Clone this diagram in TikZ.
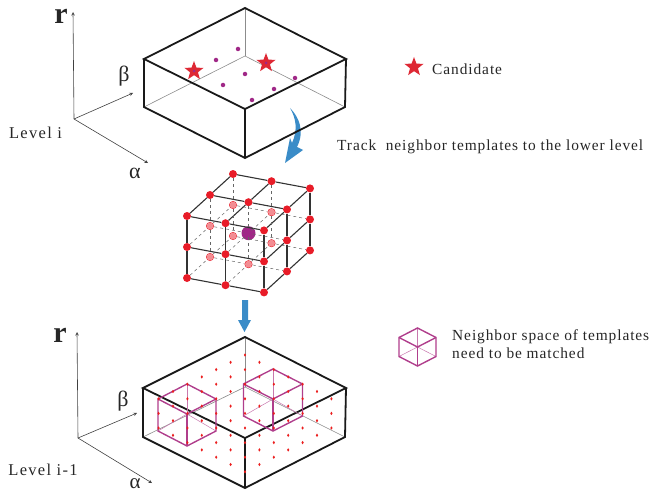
\documentclass[tikz,border=0pt]{standalone}
\usepackage{fontspec}
\setmainfont{Liberation Serif}
\newfontfamily\spacedfont[LetterSpace=6]{Liberation Serif}
\newfontfamily\levelfont[LetterSpace=8]{Liberation Serif}
\usepackage{tikz}
\usetikzlibrary{arrows,positioning,shapes.geometric}

\definecolor{arrowblue}{RGB}{58,140,200}
\definecolor{starred}{RGB}{222,40,52}
\definecolor{ballred}{RGB}{232,28,40}
\definecolor{griddotred}{RGB}{235,30,30}
\definecolor{cubepink}{RGB}{176,62,140}
\definecolor{dotpurple}{RGB}{160,40,135}
\tikzset{
  box/.style={line width=1.8pt,black!90},
  hidden/.style={line width=0.6pt,black!45},
  axis/.style={line width=0.6pt,black!75,-stealth},
  redball/.style={circle,fill=ballred,inner sep=0pt,minimum size=8pt},
  fadeball/.style={circle,fill=ballred!50!white,inner sep=0pt,minimum size=7pt},
  griddot/.style={ellipse,fill=griddotred,inner sep=0pt,minimum width=2.3pt,minimum height=3.4pt},
  purpledot/.style={circle,fill=dotpurple,inner sep=0pt,minimum size=4.5pt},
  candidate/.style={star,star points=5,star point ratio=2.4,fill=starred,inner sep=0pt,minimum size=20pt},
  label/.style={inner sep=0pt,font=\spacedfont\fontsize{15.4}{18}\selectfont,text=black!85},
  levellabel/.style={inner sep=0pt,font=\levelfont\fontsize{16.5}{18}\selectfont,text=black!85},
  axislabel/.style={inner sep=0pt,font=\fontsize{22}{22}\selectfont,text=black!85},
  cubeline/.style={line width=1.4pt,cubepink},
  cubethin/.style={line width=0.5pt,cubepink!70}
}

\begin{document}
\begin{tikzpicture}[x=1pt,y=-1pt]
   \useasboundingbox (0,0) rectangle (653,492);

   % blue arrows
   \fill[arrowblue] (290,108) .. controls (299,117) and (305,131) .. (297,147)
      -- (303,150) -- (285,163) -- (290,138) -- (292,143)
      .. controls (298,130) and (296,118) .. (290,108);
   \fill[arrowblue] (242,300) -- (248,300) -- (248,320) -- (251,320) -- (244.5,332) -- (238,320) -- (242,320) -- cycle;

   % upper level
   \coordinate (ub) at (245,8);
   \coordinate (ul) at (144,59);
   \coordinate (ur) at (346,59);
   \coordinate (uf) at (245,109);
   \coordinate (ubb) at (245,56);
   \coordinate (ulb) at (144,107);
   \coordinate (urb) at (345,107);
   \coordinate (ufb) at (245,158);
   \draw[hidden] (ulb) -- (ubb) -- (urb);
   \draw[hidden] (ub) -- (ubb);
   \draw[box] (ub) -- (ul) -- (uf) -- (ur) -- cycle;
   \draw[box] (ul) -- (ulb) -- (ufb) -- (urb) -- (ur);
   \draw[box] (uf) -- (ufb);

   \node (s1) [candidate] at (194,71) {};
   \node (s2) [candidate] at (266,63) {};
   \node (s3) [candidate] at (414,67) {};
   \foreach \n/\x/\y in {1/238/49,2/216/60,3/245/74,4/223/85,5/295/78,6/274/89,7/252/100}
      \node (p\n) [purpledot] at (\x,\y) {};
   \node (q1) [purpledot,minimum size=3pt] at (s1) {};
   \node (q2) [purpledot,minimum size=3pt] at (s2) {};

   \coordinate (o1) at (74,119);
   \coordinate (r1) at (73,12);
   \coordinate (b1) at (133,93);
   \coordinate (a1) at (148,163);
   \draw[axis] (o1) -- (r1);
   \draw[axis] (o1) -- (b1);
   \draw[axis] (o1) -- (a1);
   \node (rlabel1) [axislabel,font=\fontsize{30}{30}\selectfont] at (61,16) {\textbf{r}};
   \node (blabel1) [axislabel] at (124,76) {β};
   \node (alabel1) [axislabel] at (135,173) {α};
   \node (level1) [levellabel] at (35.5,133) {Level i};

   % neighbor cube
   \foreach \a in {0,1,2}
     \foreach \b in {0,1,2}
       \foreach \c in {0,1,2}
         \node (n\a\b\c) [redball] at (187+38.5*\a+23*\b,216+7.2*\a-21*\b+31*\c) {};
   \foreach \a/\b/\c in {0/1/1,0/2/1,1/2/1,0/1/2,1/1/2,0/2/2,1/2/2}
      \node (f\a\b\c) [fadeball] at (n\a\b\c) {};
   \node (center) [circle,fill=dotpurple,inner sep=0pt,minimum size=14pt] at (n111) {};

   \foreach \a/\d in {0/1,1/2}
     \foreach \b/\c in {0/0,1/0,2/0,0/1,0/2}
       \draw[line width=1.1pt,black!80] (n\a\b\c) -- (n\d\b\c);
   \foreach \b/\d in {0/1,1/2}
     \foreach \a/\c in {0/0,1/0,2/0,2/1,2/2}
       \draw[line width=1.1pt,black!80] (n\a\b\c) -- (n\a\d\c);
   \foreach \c/\d in {0/1,1/2}
     \foreach \a/\b in {0/0,1/0,2/0,2/1,2/2}
       \draw[line width=1.1pt,black!80] (n\a\b\c) -- (n\a\b\d);
   \foreach \a/\d in {0/1,1/2}
     \foreach \b in {1,2}
       \foreach \c in {1,2}
         \draw[dashed,line width=0.5pt,black!60] (n\a\b\c) -- (n\d\b\c);
   \foreach \b/\d in {0/1,1/2}
     \foreach \a in {0,1}
       \foreach \c in {1,2}
         \draw[dashed,line width=0.5pt,black!60] (n\a\b\c) -- (n\a\d\c);
   \foreach \c/\d in {0/1,1/2}
     \foreach \a in {0,1}
       \foreach \b in {1,2}
         \draw[dashed,line width=0.5pt,black!60] (n\a\b\c) -- (n\a\b\d);

   % lower level
   \coordinate (lb) at (245,337);
   \coordinate (ll) at (143,388);
   \coordinate (lr) at (346,388);
   \coordinate (lf) at (245,438);
   \coordinate (lbb) at (245,387);
   \coordinate (llb) at (143,437);
   \coordinate (lrb) at (345,437);
   \coordinate (lfb) at (245,488);
   \draw[hidden] (llb) -- (lbb) -- (lrb);
   \draw[hidden] (lb) -- (lbb);
   \draw[box] (lb) -- (ll) -- (lf) -- (lr) -- cycle;
   \draw[box] (ll) -- (llb) -- (lfb) -- (lrb) -- (lr);
   \draw[box] (lf) -- (lfb);

   % neighbor spaces
   \foreach \n/\x/\y/\w/\h/\t in {c/187/414/29/15/32,d/273/399/29.5/15/32,e/417.5/347/18.5/9.5/19} {
      \coordinate (\n t) at (\x,\y-2*\h);
      \coordinate (\n a) at (\x-\w,\y-\h);
      \coordinate (\n b) at (\x+\w,\y-\h);
      \coordinate (\n m) at (\x,\y);
      \coordinate (\n c) at (\x-\w,\y-\h+\t);
      \coordinate (\n e) at (\x+\w,\y-\h+\t);
      \coordinate (\n f) at (\x,\y+\t);
      \draw[cubethin] (\n m) -- (\n t);
      \draw[cubethin] (\n m) -- (\n c);
      \draw[cubethin] (\n m) -- (\n e);
      \draw[cubeline] (\n t) -- (\n a) -- (\n c) -- (\n f) -- (\n e) -- (\n b) -- cycle;
      \draw[cubeline] (\n a) -- (\n m) -- (\n b);
      \draw[cubeline] (\n m) -- (\n f);
   }

   \foreach \u in {0,...,8}
     \foreach \v in {0,...,8} {
       \pgfmathtruncatemacro{\d}{abs(\u-\v)}
       \ifnum\d<7
         \node (g\u\v) [griddot] at (245+14.4*\u-14.4*\v,355+7.3*\u+7.3*\v) {};
       \fi
     }

   \coordinate (o2) at (78,438);
   \coordinate (r2) at (77,332);
   \coordinate (b2) at (137,413);
   \coordinate (a2) at (152,483);
   \draw[axis] (o2) -- (r2);
   \draw[axis] (o2) -- (b2);
   \draw[axis] (o2) -- (a2);
   \node (rlabel2) [axislabel,font=\fontsize{30}{30}\selectfont] at (60,335) {\textbf{r}};
   \node (blabel2) [axislabel] at (123,401) {β};
   \node (alabel2) [axislabel,font=\fontsize{21}{21}\selectfont] at (135,484) {α};
   \node (level2) [levellabel] at (43,470) {Level i-1};

   % legend
   \node (candtext) [label,anchor=west] at (432,69) {Candidate};
   \node (tracktext) [label,anchor=west] at (337,147) {Track\ \ neighbor templates to the lower level};
   \node (spacetext) [label,anchor=north west,align=left] at (452,329.5) {Neighbor space of templates\\need to be matched};
\end{tikzpicture}
\end{document}
